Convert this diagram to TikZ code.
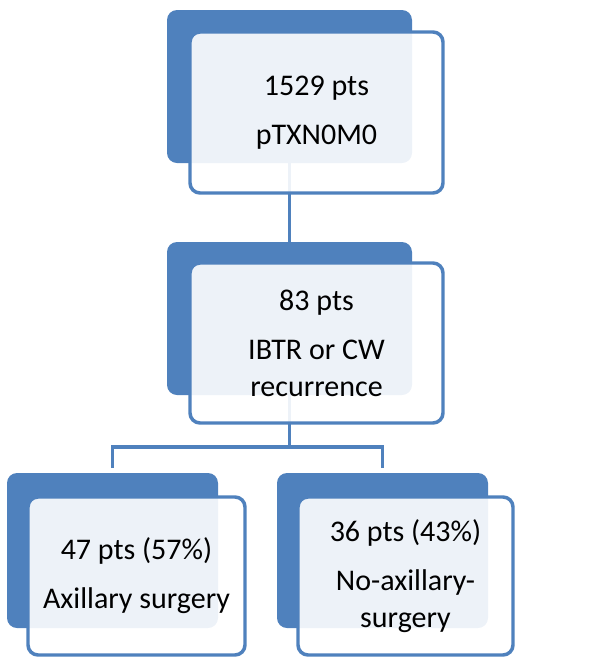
\documentclass[tikz,border=0pt]{standalone}
\usepackage{fontspec}
\setmainfont{Carlito}
\definecolor{accent}{HTML}{4F81BD}
\tikzset{
  backbox/.style={draw=none, fill=accent, rounded corners=7.5pt, inner sep=0pt},
  frontbox/.style={draw=accent, line width=2.6pt, fill=white, fill opacity=0.9, text opacity=1,
     rounded corners=7.5pt, inner sep=0pt, align=center,
     font=\fontsize{22.5}{27.75}\selectfont},
  conn/.style={draw=accent, line width=2.5pt}
}
\begin{document}
\begin{tikzpicture}[x=0.75pt, y=-0.75pt]
\useasboundingbox (0,0) rectangle (606,665);
% back boxes
\node[backbox, minimum width=183.75pt, minimum height=114.75pt] (topback) at (289.5,86.5) {};
\node[backbox, minimum width=183.75pt, minimum height=114.75pt] (midback) at (289.5,318.5) {};
\node[backbox, minimum width=158.25pt, minimum height=116.25pt] (lback) at (112.5,550.5) {};
\node[backbox, minimum width=158.25pt, minimum height=116.25pt] (rback) at (382.5,550.5) {};
% connectors
\coordinate (split) at (289.5,447);
\draw[conn] (topback.south) -- (midback.north);
\draw[conn] (midback.south) -- (split);
\draw[conn, shorten >=3.75pt] (split) -| (lback.north);
\draw[conn, shorten >=3.75pt] (split) -| (rback.north);
% front boxes
\node[frontbox, minimum width=189.75pt, minimum height=120.75pt] (topfront) at (316.5,112.5)
  {1529 pts\\[9pt]pTXN0M0};
\node[frontbox, minimum width=189.75pt, minimum height=120pt] (midfront) at (316.5,343)
  {83 pts\\[9pt]IBTR or CW\\recurrence};
\node[frontbox, minimum width=162.75pt, minimum height=118.5pt] (lfront) at (136.5,576)
  {47 pts (57\%)\\[9pt]Axillary surgery};
\node[frontbox, minimum width=161.25pt, minimum height=118.5pt] (rfront) at (405.5,576)
  {36 pts (43\%)\\[9pt]No-axillary-\\surgery};
\end{tikzpicture}
\end{document}
